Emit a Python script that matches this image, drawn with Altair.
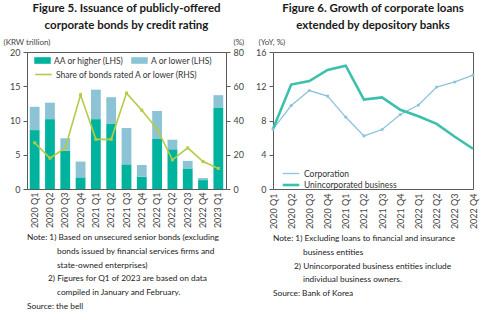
import altair as alt
import pandas as pd

# ---------------- data ----------------
quarters_l = ["2020 Q1", "2020 Q2", "2020 Q3", "2020 Q4", "2021 Q1", "2021 Q2", "2021 Q3",
              "2021 Q4", "2022 Q1", "2022 Q2", "2022 Q3", "2022 Q4", "2023 Q1"]
aa_higher = [8.6, 10.2, 5.6, 1.7, 10.2, 9.5, 3.6, 1.8, 7.3, 5.8, 3.0, 1.3, 11.9]
a_lower = [3.4, 2.4, 1.8, 2.3, 4.3, 3.9, 5.3, 1.7, 4.1, 1.4, 1.1, 0.3, 1.8]
share_a_lower = [27, 18, 24, 55, 29, 29, 56, 46, 35, 17, 24, 16, 12]

quarters_r = ["2020 Q1", "2020 Q2", "2020 Q3", "2020 Q4", "2021 Q1", "2021 Q2", "2021 Q3",
              "2021 Q4", "2022 Q1", "2022 Q2", "2022 Q3", "2022 Q4"]
corporation = [7.0, 9.75, 11.5, 10.85, 8.4, 6.2, 6.95, 8.7, 9.8, 11.9, 12.5, 13.3]
unincorporated = [7.0, 12.2, 12.6, 13.9, 14.4, 10.45, 10.7, 9.25, 8.5, 7.6, 6.1, 4.7]

series_bars = ["AA or higher (LHS)", "A or lower (LHS)"]
series_share = "Share of bonds rated A or lower (RHS)"
series_loans = ["Corporation", "Unincorporated business"]

title_left = ["Figure 5. Issuance of publicly-offered", "corporate bonds by credit rating"]
title_right = ["Figure 6. Growth of corporate loans", "extended by depository banks"]

notes_left = [
    "Note: 1) Based on unsecured senior bonds (excluding",
    "bonds issued by financial services firms and",
    "state-owned enterprises)",
    "2) Figures for Q1 of 2023 are based on data",
    "compiled in January and February.",
    "Source: the bell",
]
notes_left_kind = ["note", "cont", "cont", "item", "cont", "source"]
notes_right = [
    "Note: 1) Excluding loans to financial and insurance",
    "business entities",
    "2) Unincorporated business entities include",
    "individual business owners.",
    "Source: Bank of Korea",
]
notes_right_kind = ["note", "cont", "item", "cont", "source"]

# ---------------- style ----------------
FONT = "Lato"
TEAL = "#00B39E"
LIGHT_BLUE = "#8CC4D6"
LIME = "#B4CC45"
CORP = "#8EC3DA"
UNINC = "#3DBFAD"
BOX = "#5a5a5a"
# symbols drawn wider than the nominal legend symbol box (r = sqrt(size)/2)
RECT_SYMBOL = "M-1.5,-0.6H1.5V0.6H-1.5Z"
LINE_SYMBOL = "M-1.5,0H1.5"
SYM_SIZE = 121
SYM_LABEL_OFFSET = 6

W, H = 199, 137

# ---------------- left chart ----------------
bars_df = pd.DataFrame({
    "quarter": quarters_l * 2,
    "series": [series_bars[0]] * len(quarters_l) + [series_bars[1]] * len(quarters_l),
    "value": aa_higher + a_lower,
    "order": [0] * len(quarters_l) + [1] * len(quarters_l),
})
share_df = pd.DataFrame({"quarter": quarters_l, "share": share_a_lower,
                         "series": [series_share] * len(quarters_l)})

x_left = alt.X("quarter:N", sort=quarters_l,
               scale=alt.Scale(paddingInner=0.36, paddingOuter=0.18),
               axis=alt.Axis(title=None, labelAngle=-90, ticks=False, domain=False,
                             labelPadding=3))

left_axis = alt.Axis(values=[0, 5, 10, 15, 20], title="(KRW trillion)", titleAngle=0,
                     titleX=-24, titleY=-6, titleAlign="left", titleBaseline="bottom",
                     grid=False, domain=False, tickSize=4, labelPadding=3,
                     labelOverlap=False)
right_axis = alt.Axis(orient="right", values=[0, 20, 40, 60, 80], title="(%)", titleAngle=0,
                      titleX=7, titleY=-6, titleAlign="left", titleBaseline="bottom",
                      grid=False, domain=False, tickSize=4, labelPadding=3,
                      labelOverlap=False)
share_scale = alt.Scale(domain=[0, 80], nice=False)

bars = alt.Chart(bars_df).mark_bar().encode(
    x=x_left,
    y=alt.Y("value:Q", stack="zero", scale=alt.Scale(domain=[0, 20], nice=False), axis=left_axis),
    color=alt.Color("series:N", scale=alt.Scale(domain=series_bars, range=[TEAL, LIGHT_BLUE]),
                    legend=alt.Legend(orient="none", legendX=10, legendY=3, title=None,
                                      direction="horizontal", columns=2, columnPadding=7,
                                      symbolType=RECT_SYMBOL, symbolSize=SYM_SIZE,
                                      symbolStrokeWidth=0, labelOffset=SYM_LABEL_OFFSET,
                                      padding=0)),
    order=alt.Order("order:Q"),
)

share_line = alt.Chart(share_df).mark_line(strokeWidth=1.6).encode(
    x=x_left,
    y=alt.Y("share:Q", scale=share_scale, axis=right_axis),
    stroke=alt.Stroke("series:N", scale=alt.Scale(domain=[series_share], range=[LIME]),
                      legend=alt.Legend(orient="none", legendX=10, legendY=16, title=None,
                                        symbolType=LINE_SYMBOL, symbolSize=SYM_SIZE,
                                        symbolStrokeWidth=1.6, labelOffset=SYM_LABEL_OFFSET,
                                        padding=0)),
)
share_pts = alt.Chart(share_df).mark_point(shape="square", filled=True, size=9,
                                           color=LIME, opacity=1).encode(
    x=x_left,
    y=alt.Y("share:Q", scale=share_scale, axis=right_axis),
)

left_main = alt.layer(bars, alt.layer(share_line, share_pts)).resolve_scale(
    y="independent", color="independent"
).properties(
    width=W, height=H,
    view=alt.ViewBackground(stroke=BOX, strokeWidth=1),
    title=alt.TitleParams(title_left, font=FONT, fontSize=11.5, fontWeight="bold",
                          color="#1a1a1a", anchor="middle", offset=7, lineHeight=17),
)

# ---------------- right chart ----------------
loans_df = pd.DataFrame({
    "quarter": quarters_r * 2,
    "series": [series_loans[0]] * len(quarters_r) + [series_loans[1]] * len(quarters_r),
    "value": corporation + unincorporated,
})
corp_df = pd.DataFrame({"quarter": quarters_r, "value": corporation})

x_right = alt.X("quarter:N", sort=quarters_r, scale=alt.Scale(type="point", padding=0),
                axis=alt.Axis(title=None, labelAngle=-90, ticks=False, domain=False,
                              labelPadding=4))
y_right_scale = alt.Scale(domain=[0, 16], nice=False)
y_right_axis = alt.Axis(values=[0, 4, 8, 12, 16], title="(YoY, %)", titleAngle=0,
                        titleX=-15, titleY=-6, titleAlign="left", titleBaseline="bottom",
                        grid=False, domain=False, tickSize=4, labelPadding=3,
                        labelOverlap=False)

loan_legend = dict(orient="none", legendX=11, legendY=115, title=None,
                   symbolType=LINE_SYMBOL, symbolSize=SYM_SIZE,
                   labelOffset=SYM_LABEL_OFFSET, padding=0, rowPadding=0)

loan_lines = alt.Chart(loans_df).mark_line().encode(
    x=x_right,
    y=alt.Y("value:Q", scale=y_right_scale, axis=y_right_axis),
    color=alt.Color("series:N", scale=alt.Scale(domain=series_loans, range=[CORP, UNINC]),
                    legend=alt.Legend(**loan_legend)),
    strokeWidth=alt.StrokeWidth("series:N", scale=alt.Scale(domain=series_loans, range=[1.3, 2.6]),
                                legend=alt.Legend(**loan_legend)),
)
corp_pts = alt.Chart(corp_df).mark_circle(size=10, color=CORP, opacity=1).encode(
    x=x_right,
    y=alt.Y("value:Q", scale=y_right_scale, axis=y_right_axis),
)

right_main = alt.layer(loan_lines, corp_pts).properties(
    width=200, height=H,
    view=alt.ViewBackground(stroke=BOX, strokeWidth=1),
    title=alt.TitleParams(title_right, font=FONT, fontSize=11.5, fontWeight="bold",
                          color="#1a1a1a", anchor="middle", offset=7, lineHeight=17),
)


# ---------------- notes ----------------
def notes_chart(lines, kinds, width):
    df = pd.DataFrame({"text": lines, "kind": kinds, "line": list(range(len(lines)))})
    n = 6
    return alt.Chart(df).transform_calculate(
        indent="datum.kind === 'cont' ? 30 : (datum.kind === 'item' ? 21 : 0)"
    ).mark_text(align="left", baseline="middle", font=FONT, fontSize=8.3, color="#222").encode(
        x=alt.X("indent:Q", scale=None),
        y=alt.Y("line:Q", scale=alt.Scale(domain=[-0.5, n - 0.5], reverse=True), axis=None),
        text="text:N",
    ).properties(width=width, height=n * 13.8)


left_notes = notes_chart(notes_left, notes_left_kind, W)
right_notes = notes_chart(notes_right, notes_right_kind, 200)

chart = alt.hconcat(
    alt.vconcat(left_main, left_notes, spacing=1),
    alt.vconcat(right_main, right_notes, spacing=1),
    spacing=10,
).resolve_legend(
    color="independent", stroke="independent", strokeWidth="independent"
).properties(
    padding={"left": 2, "top": 2, "right": 2, "bottom": 2},
).configure_view(
    stroke="transparent"
).configure_axis(
    labelFont=FONT, labelFontSize=9, labelColor="#444",
    titleFont=FONT, titleFontSize=8, titleFontWeight="normal", titleColor="#444",
    tickColor=BOX,
).configure_legend(
    labelFont=FONT, labelFontSize=8.5, labelColor="#333",
)

chart.save("out.html", embed_options={"renderer": "svg", "actions": False})
